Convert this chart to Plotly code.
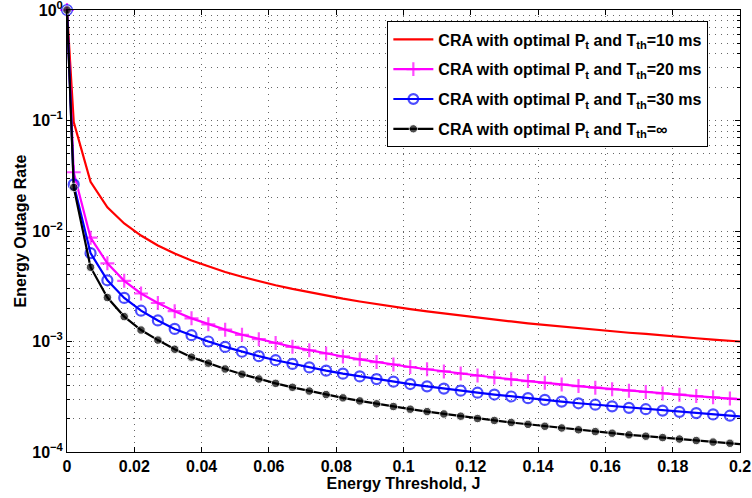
import plotly.graph_objects as go

# Energy threshold grid (J); the last sample closes each curve at the axis edge
energy_threshold = [0.0, 0.002, 0.007, 0.012, 0.017, 0.022, 0.027, 0.032, 0.037, 0.042,
                    0.047, 0.052, 0.057, 0.062, 0.067, 0.072, 0.077, 0.082, 0.087, 0.092,
                    0.097, 0.102, 0.107, 0.112, 0.117, 0.122, 0.127, 0.132, 0.137, 0.142,
                    0.147, 0.152, 0.157, 0.162, 0.167, 0.172, 0.177, 0.182, 0.187, 0.192,
                    0.197, 0.2]

outage_tth_10ms = [1.0, 0.097, 0.0279, 0.0164, 0.0117, 0.0091, 0.0074, 0.00625, 0.0054, 0.00476,
                   0.00426, 0.00385, 0.00351, 0.00323, 0.00299, 0.00278, 0.0026, 0.00244, 0.0023, 0.00217,
                   0.00206, 0.00196, 0.00187, 0.00179, 0.00171, 0.00164, 0.00158, 0.00152, 0.00146, 0.00141,
                   0.00136, 0.00132, 0.00128, 0.00124, 0.0012, 0.00117, 0.00113, 0.0011, 0.00107, 0.00104,
                   0.00102, 0.001]

outage_tth_20ms = [1.0, 0.034, 0.0087, 0.0051, 0.00354, 0.00272, 0.00223, 0.00188, 0.00162, 0.00143,
                   0.00128, 0.00115, 0.00105, 0.00097, 0.000895, 0.000833, 0.000779, 0.000732, 0.00069, 0.000652,
                   0.000619, 0.000588, 0.000561, 0.000536, 0.000513, 0.000492, 0.000472, 0.000455, 0.000438, 0.000423,
                   0.000408, 0.000395, 0.000382, 0.00037, 0.000359, 0.000349, 0.000339, 0.00033, 0.000321, 0.000313,
                   0.000305, 0.0003]

outage_tth_30ms = [1.0, 0.0264, 0.0063, 0.00358, 0.00248, 0.0019, 0.00155, 0.0013, 0.00114, 0.001,
                   0.000894, 0.000808, 0.000737, 0.000677, 0.000627, 0.000583, 0.000545, 0.000512, 0.000483, 0.000457,
                   0.000433, 0.000412, 0.000393, 0.000375, 0.000359, 0.000344, 0.000331, 0.000318, 0.000307, 0.000296,
                   0.000286, 0.000276, 0.000268, 0.000259, 0.000251, 0.000244, 0.000237, 0.000231, 0.000225, 0.000219,
                   0.000213, 0.00021]

outage_tth_inf = [1.0, 0.0248, 0.0047, 0.0025, 0.00168, 0.00127, 0.00103, 0.000852, 0.000722, 0.000637,
                  0.000564, 0.000506, 0.000458, 0.000418, 0.000385, 0.000356, 0.000331, 0.000309, 0.00029, 0.000273,
                  0.000258, 0.000244, 0.000232, 0.000221, 0.000211, 0.000201, 0.000193, 0.000185, 0.000178, 0.000171,
                  0.000165, 0.000159, 0.000153, 0.000148, 0.000143, 0.000139, 0.000135, 0.000131, 0.000127, 0.000123,
                  0.00012, 0.000118]

legend_labels = [
    "CRA with optimal P<sub>t</sub> and T<sub>th</sub>=10 ms",
    "CRA with optimal P<sub>t</sub> and T<sub>th</sub>=20 ms",
    "CRA with optimal P<sub>t</sub> and T<sub>th</sub>=30 ms",
    "CRA with optimal P<sub>t</sub> and T<sub>th</sub>=\u221e",
]

x_tick_vals = [0, 0.02, 0.04, 0.06, 0.08, 0.1, 0.12, 0.14, 0.16, 0.18, 0.2]
x_tick_text = ["0", "0.02", "0.04", "0.06", "0.08", "0.1", "0.12", "0.14", "0.16", "0.18", "0.2"]
y_tick_vals = [1, 1e-1, 1e-2, 1e-3, 1e-4]
y_tick_text = ["10<sup>0</sup>", "10<sup>\u22121</sup>", "10<sup>\u22122</sup>",
               "10<sup>\u22123</sup>", "10<sup>\u22124</sup>"]

FONT = dict(family="Liberation Sans, Arial, sans-serif", size=16, color="black", weight="bold")
GRID_DASH = "1px,5px"
GRID_COLOR = "#666666"

# markers on every sample except the closing edge point
n = len(energy_threshold)
def marker_sizes(size):
    return [size] * (n - 1) + [0]

fig = go.Figure()
fig.add_trace(go.Scatter(
    x=energy_threshold, y=outage_tth_10ms, name=legend_labels[0], mode="lines",
    legendgroup="g1", cliponaxis=False,
    line=dict(color="#ff0000", width=2.2),
))
fig.add_trace(go.Scatter(
    x=energy_threshold, y=outage_tth_20ms, name=legend_labels[1], mode="lines+markers",
    legendgroup="g2", cliponaxis=False,
    line=dict(color="#ff00ff", width=2.2),
    marker=dict(symbol="cross-thin", size=marker_sizes(10), line=dict(color="#ff00ff", width=2.2)),
))
fig.add_trace(go.Scatter(
    x=energy_threshold, y=outage_tth_30ms, name=legend_labels[2], mode="lines+markers",
    legendgroup="g3", cliponaxis=False,
    line=dict(color="#0000ff", width=2.2),
    marker=dict(symbol="circle-open", size=marker_sizes(10), color="#0000ff", line=dict(color="#0000ff", width=2.2)),
))
fig.add_trace(go.Scatter(
    x=energy_threshold, y=outage_tth_inf, name=legend_labels[3], mode="lines+markers",
    legendgroup="g4", cliponaxis=False,
    line=dict(color="#000000", width=2.2),
    marker=dict(symbol="circle", size=marker_sizes(8.5), color="#000000"),
))

minor_y = [m * 10.0 ** e for e in range(-4, 0) for m in range(2, 10)]

fig.update_layout(
    width=752, height=498,
    margin=dict(l=67, r=12, t=10, b=46, autoexpand=False),
    paper_bgcolor="white", plot_bgcolor="white",
    font=FONT,
    showlegend=True,
    legend=dict(
        x=0.476, y=0.974, xanchor="left", yanchor="top",
        bgcolor="white", bordercolor="black", borderwidth=1,
        font=FONT, tracegroupgap=6, itemwidth=40,
    ),
    xaxis=dict(
        range=[0, 0.2], tickvals=x_tick_vals, ticktext=x_tick_text,
        showline=True, linecolor="black", linewidth=1, mirror="allticks",
        ticks="inside", ticklen=5, tickcolor="black",
        showgrid=True, gridcolor=GRID_COLOR, griddash=GRID_DASH, gridwidth=1,
        zeroline=False, tickfont=FONT, ticklabeloverflow="allow", automargin=False,
        title=dict(text="Energy Threshold, J", font=FONT, standoff=3),
    ),
    yaxis=dict(
        type="log", range=[-4, 0], tickvals=y_tick_vals, ticktext=y_tick_text,
        showline=True, linecolor="black", linewidth=1, mirror="allticks",
        ticks="inside", ticklen=5, tickcolor="black",
        showgrid=True, gridcolor=GRID_COLOR, griddash=GRID_DASH, gridwidth=1,
        zeroline=False, tickfont=FONT, ticklabeloverflow="allow", automargin=False,
        minor=dict(tickvals=minor_y, ticks="inside", ticklen=3, tickcolor="black",
                   showgrid=True, gridcolor=GRID_COLOR, griddash=GRID_DASH, gridwidth=1),
        title=dict(text="Energy Outage Rate", font=FONT, standoff=1),
    ),
)

fig.write_html("out.html")
